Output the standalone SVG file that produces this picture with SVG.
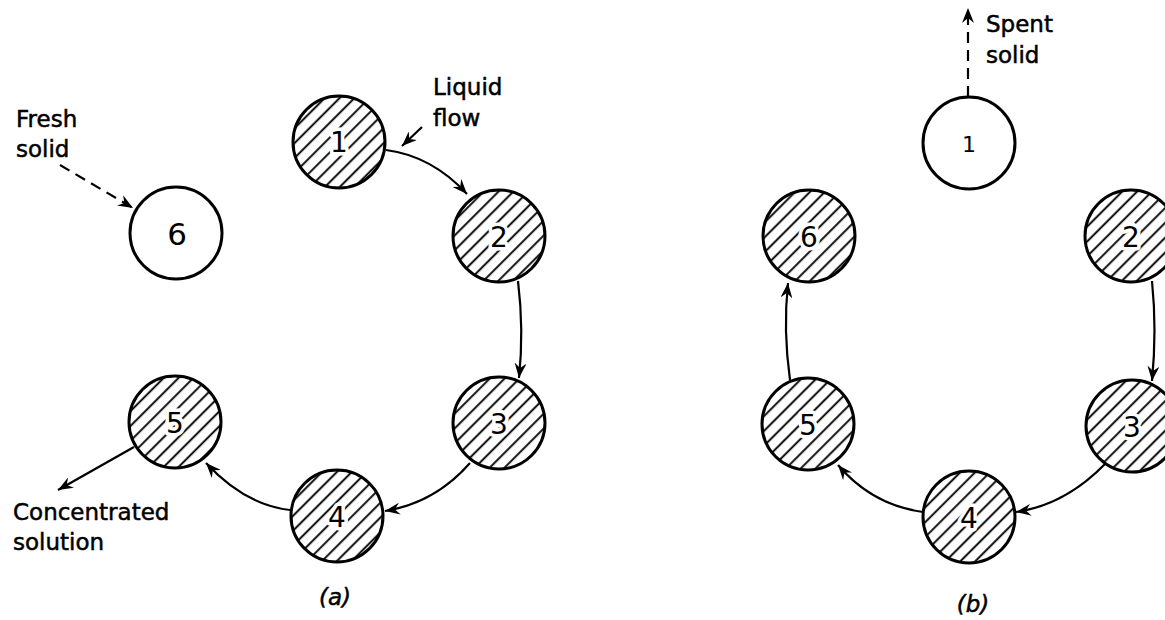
<svg xmlns="http://www.w3.org/2000/svg" width="1165" height="620" viewBox="0 0 1165 620">
<style>
.c{stroke:#000;stroke-width:3}
.h{fill:url(#hatch)}
.w{fill:#fff}
.n{font-family:"DejaVu Sans",sans-serif;font-size:28px;text-anchor:middle;fill:#000;stroke:#fff;stroke-width:7;paint-order:stroke;stroke-linejoin:round}
.t{font-family:"DejaVu Sans",sans-serif;font-size:23px;fill:#000;stroke:#000;stroke-width:0.5}
.e{fill:none;stroke:#000;stroke-width:2.2}
.d{fill:none;stroke:#000;stroke-width:2.2;stroke-dasharray:11 7}
</style>
<defs>
<pattern id="hatch" patternUnits="userSpaceOnUse" width="10.5" height="10.5" patternTransform="rotate(45)">
<rect width="10.5" height="10.5" fill="#fff"/>
<line x1="5" y1="-1" x2="5" y2="12" stroke="#000" stroke-width="1.9"/>
</pattern>
<marker id="ah" markerUnits="userSpaceOnUse" markerWidth="16" markerHeight="12" refX="15" refY="6" orient="auto">
<path d="M0,0 L15,6 L0,12 L5,6 Z" fill="#000"/>
</marker>
</defs>
<g id="connectors">
<path class="e" d="M386,150 Q432,156 467,194" marker-end="url(#ah)"/>
<path class="e" d="M422,127 L402,146" marker-end="url(#ah)"/>
<path class="e" d="M518,281 Q524,330 519,378" marker-end="url(#ah)"/>
<path class="e" d="M470,463 Q435,503 385,511" marker-end="url(#ah)"/>
<path class="e" d="M290,510 Q245,505 206,463" marker-end="url(#ah)"/>
<path class="e" d="M134,447 L58,490" marker-end="url(#ah)"/>
<path class="d" d="M60,165 L133,208" marker-end="url(#ah)"/>
<path class="d" d="M968,97 L968,8" marker-end="url(#ah)"/>
<path class="e" d="M1152,281 Q1157,330 1152,381" marker-end="url(#ah)"/>
<path class="e" d="M1105,464 Q1065,505 1016,512" marker-end="url(#ah)"/>
<path class="e" d="M923,512 Q872,505 838,465" marker-end="url(#ah)"/>
<path class="e" d="M790,380 Q783,330 788,283" marker-end="url(#ah)"/>
</g>
<g id="a1"><circle class="c h" cx="339" cy="142" r="46"/><text class="n" x="339" y="152">1</text></g>
<g id="a2"><circle class="c h" cx="499" cy="236" r="46"/><text class="n" x="499" y="247">2</text></g>
<g id="a3"><circle class="c h" cx="499" cy="423" r="46"/><text class="n" x="499" y="434">3</text></g>
<g id="a4"><circle class="c h" cx="337" cy="516" r="46"/><text class="n" x="337" y="527">4</text></g>
<g id="a5"><circle class="c h" cx="175" cy="422" r="46"/><text class="n" x="175" y="433">5</text></g>
<g id="a6"><circle class="c w" cx="176" cy="233" r="46"/><text class="n" x="177" y="245" style="font-size:31px">6</text></g>
<g id="b1"><circle class="c w" cx="969" cy="143" r="46"/><text class="n" x="969" y="152" style="font-size:22px">1</text></g>
<g id="b2"><circle class="c h" cx="1131" cy="236" r="46"/><text class="n" x="1131" y="247">2</text></g>
<g id="b3"><circle class="c h" cx="1132" cy="426" r="46"/><text class="n" x="1132" y="437">3</text></g>
<g id="b4"><circle class="c h" cx="969" cy="517" r="46"/><text class="n" x="969" y="528">4</text></g>
<g id="b5"><circle class="c h" cx="808" cy="424" r="46"/><text class="n" x="808" y="435">5</text></g>
<g id="b6"><circle class="c h" cx="809" cy="236" r="46"/><text class="n" x="809" y="247">6</text></g>
<g id="labels">
<text class="t" x="433" y="95">Liquid</text>
<text class="t" x="433" y="126">flow</text>
<text class="t" x="16" y="127">Fresh</text>
<text class="t" x="16" y="157">solid</text>
<text class="t" x="13" y="520">Concentrated</text>
<text class="t" x="13" y="550">solution</text>
<text class="t" x="986" y="32">Spent</text>
<text class="t" x="986" y="63">solid</text>
<text class="t" x="335" y="605" text-anchor="middle" font-style="italic">(a)</text>
<text class="t" x="973" y="612" text-anchor="middle" font-style="italic">(b)</text>
</g>
</svg>
